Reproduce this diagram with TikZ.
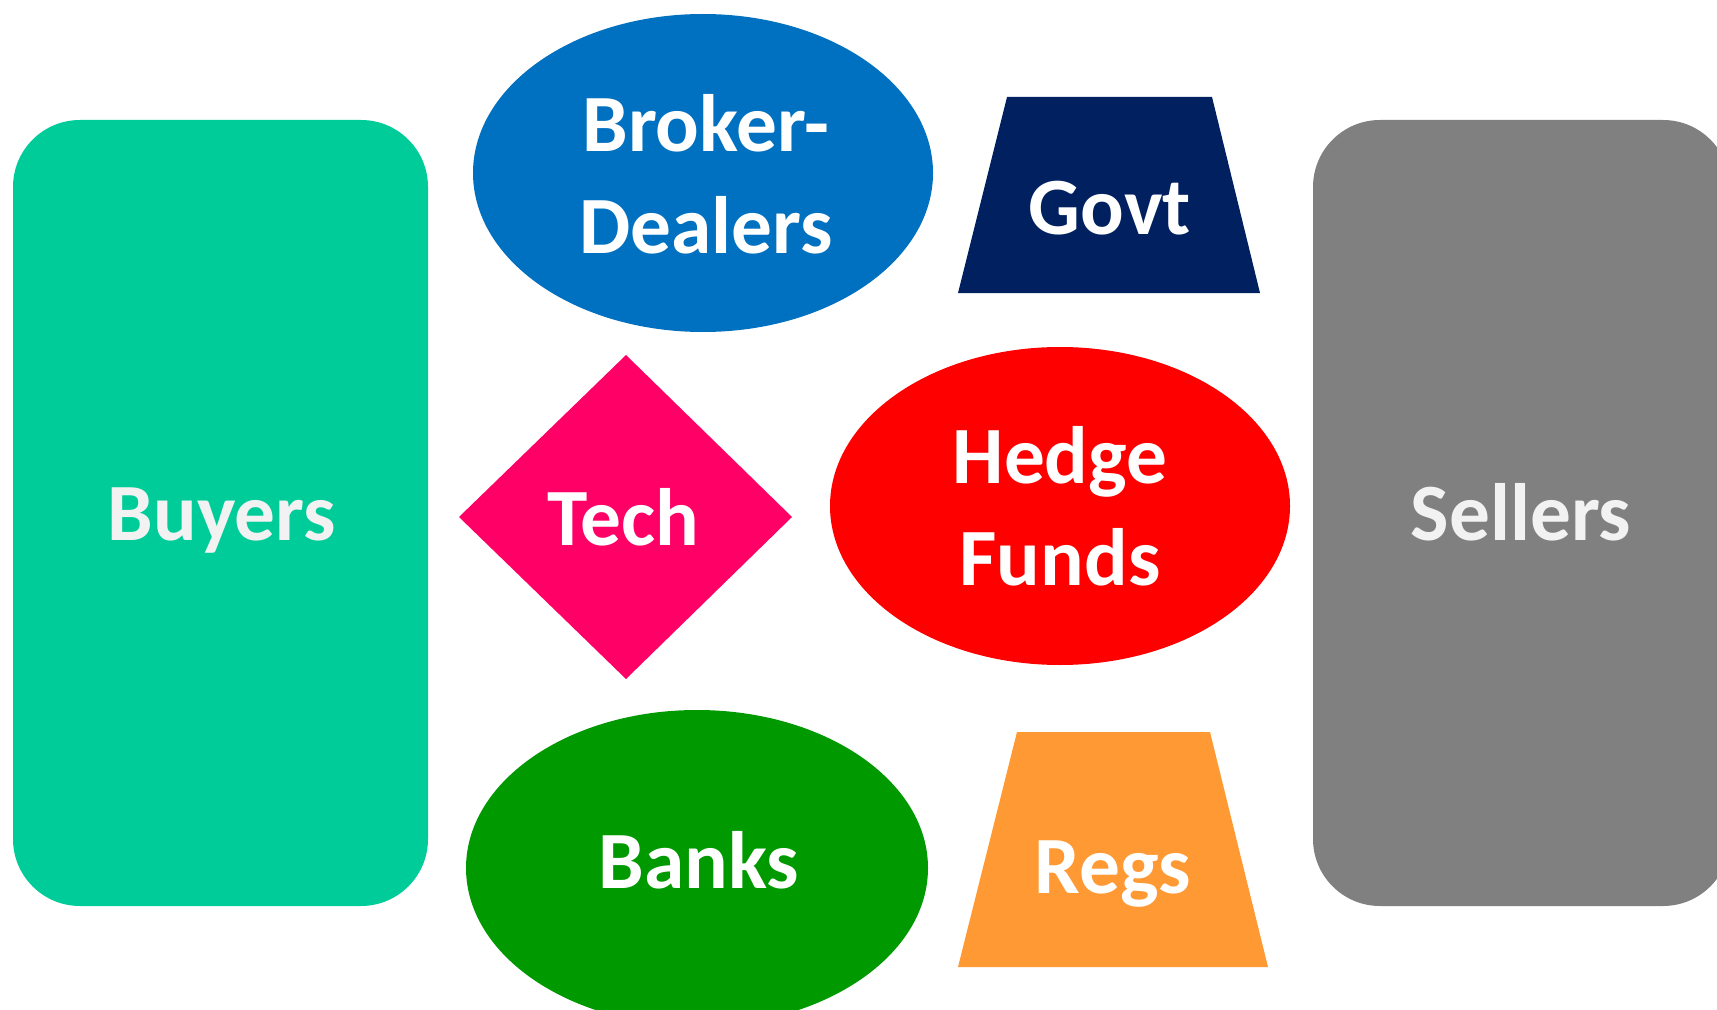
\documentclass[tikz,border=0pt]{standalone}
\usepackage{fontspec}
\setmainfont{Carlito}
\usepackage{xcolor}
\usepackage{tikz}
\definecolor{buyclr}{RGB}{0,204,153}
\definecolor{sellclr}{RGB}{128,128,128}
\definecolor{brokclr}{RGB}{0,112,192}
\definecolor{govclr}{RGB}{0,32,96}
\definecolor{hedgeclr}{RGB}{255,0,0}
\definecolor{techclr}{RGB}{255,0,102}
\definecolor{bankclr}{RGB}{0,153,0}
\definecolor{regclr}{RGB}{255,153,51}
\definecolor{softwhite}{RGB}{242,242,242}

\begin{document}
\begin{tikzpicture}[x=0.02cm, y=-0.02cm]
\tikzstyle{every node}=[font=\fontsize{46.3}{57.8}\selectfont\bfseries, text=white, inner sep=0pt, align=center]
\tikzstyle{side}=[rounded corners=1.34cm]
\useasboundingbox (0,0) rectangle (1717,1010);
\clip (0,0) rectangle (1717,1010);
% side blocks
\fill [side, buyclr] (13,120) rectangle (428,906);
\fill [side, sellclr] (1313,120) rectangle (1730,906);
% middle shapes
\fill [brokclr] (703,173) ellipse [x radius=230, y radius=159];
\fill [hedgeclr] (1060,506) ellipse [x radius=230, y radius=159];
\fill [bankclr] (697,868) ellipse [x radius=231, y radius=158];
\fill [govclr] (1007,97) -- (1212,97) -- (1260,293) -- (958,293) -- cycle;
\fill [regclr] (1017,732) -- (1210,732) -- (1268,967) -- (958,967) -- cycle;
\fill [techclr] (626,355) -- (792,517) -- (626,679) -- (459,517) -- cycle;
% labels
\node [anchor=base, text=softwhite] (buyers) at (222,540) {Buyers};
\node [anchor=base, text=softwhite] (sellers) at (1521,540) {Sellers};
\node (broker) at (706,174) {Broker-\\Dealers};
\node (hedge) at (1060,506) {Hedge\\Funds};
\node [anchor=base] (tech) at (623,545) {Tech};
\node [anchor=base] (govt) at (1110,235) {Govt};
\node [anchor=base] (banks) at (699,888) {Banks};
\node [anchor=base] (regs) at (1113,893) {Regs};
\end{tikzpicture}
\end{document}
